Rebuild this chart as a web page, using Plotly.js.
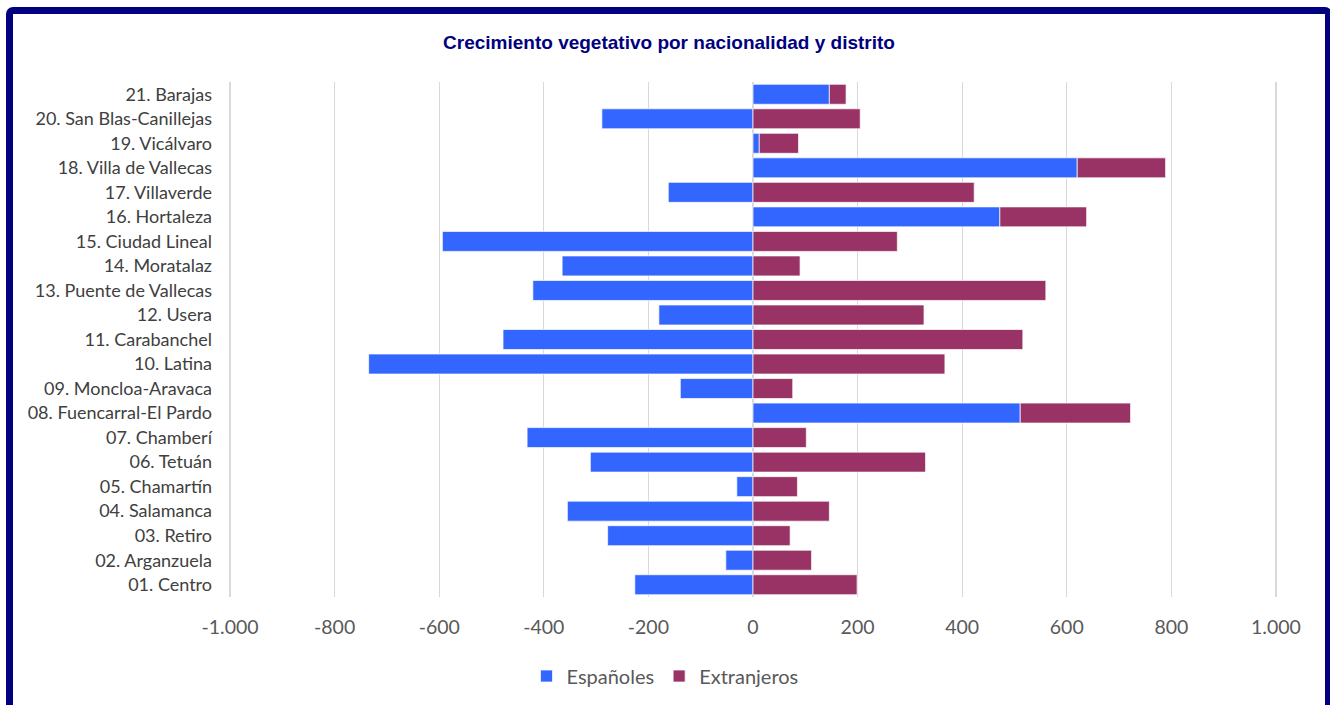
<!DOCTYPE html>
<html>
<head>
<meta charset="utf-8">
<script src="https://cdn.plot.ly/plotly-3.0.1.min.js"></script>
<style>
html,body{margin:0;padding:0;background:#fff;overflow:hidden;}
#chart{position:absolute;left:0;top:0;width:1330px;height:705px;}
#frame{position:absolute;left:6px;top:7px;width:1312px;height:720px;border:7px solid #000080;border-radius:7px;box-sizing:content-box;pointer-events:none;}
</style>
</head>
<body>
<div id="chart"></div>
<div id="frame"></div>
<script>
const categories = [
  "01. Centro", "02. Arganzuela", "03. Retiro", "04. Salamanca", "05. Chamartín",
  "06. Tetuán", "07. Chamberí", "08. Fuencarral-El Pardo", "09. Moncloa-Aravaca",
  "10. Latina", "11. Carabanchel", "12. Usera", "13. Puente de Vallecas",
  "14. Moratalaz", "15. Ciudad Lineal", "16. Hortaleza", "17. Villaverde",
  "18. Villa de Vallecas", "19. Vicálvaro", "20. San Blas-Canillejas", "21. Barajas"
];
const espanoles = [-226, -52, -278, -355, -31, -311, -432, 511, -139, -735, -478, -180, -421, -365, -594, 472, -162, 620, 12, -289, 146];
const extranjeros = [199, 112, 71, 146, 85, 330, 102, 211, 76, 367, 516, 327, 560, 90, 276, 166, 423, 169, 75, 205, 32];
const tickValues = [-1000, -800, -600, -400, -200, 0, 200, 400, 600, 800, 1000];
const tickLabels = ["-1.000", "-800", "-600", "-400", "-200", "0", "200", "400", "600", "800", "1.000"];

const traces = [
  {type: "bar", orientation: "h", name: "Españoles", y: categories, x: espanoles,
   marker: {color: "#3366FF", line: {color: "rgba(255,255,255,0.7)", width: 1}}, hoverinfo: "none"},
  {type: "bar", orientation: "h", name: "Extranjeros", y: categories, x: extranjeros,
   marker: {color: "#993366", line: {color: "rgba(255,255,255,0.7)", width: 1}}, hoverinfo: "none"}
];

const layout = {
  width: 1330, height: 705,
  paper_bgcolor: "#ffffff", plot_bgcolor: "#ffffff",
  margin: {l: 228.5, r: 52.5, t: 81.7, b: 107.7, pad: 0},
  barmode: "relative",
  bargap: 0.185,
  font: {family: "Lato, sans-serif", color: "#595959"},
  title: {
    text: "<b>Crecimiento vegetativo por nacionalidad y distrito</b>",
    font: {family: "'Liberation Sans', Arial, sans-serif", size: 19, color: "#000080"},
    xref: "container", x: 0.503, xanchor: "center",
    yref: "container", y: 1 - 42/705, yanchor: "middle"
  },
  xaxis: {
    range: [-1002, 1002],
    tickvals: tickValues, ticktext: tickLabels,
    tickfont: {size: 19.5, color: "#595959"},
    showgrid: true, gridcolor: "#d9d9d9", gridwidth: 1.3,
    zeroline: true, zerolinecolor: "#d9d9d9", zerolinewidth: 1.3,
    showline: false, ticks: "", ticklabelstandoff: 16,
    fixedrange: true
  },
  yaxis: {
    type: "category",
    tickfont: {size: 18, color: "#404040"},
    showgrid: false, zeroline: false, showline: false, ticks: "",
    ticklabelstandoff: 16,
    fixedrange: true
  },
  showlegend: true,
  legend: {
    orientation: "h",
    xref: "container", x: 0.500, xanchor: "center",
    yref: "container", y: (705 - 676) / 705, yanchor: "middle",
    font: {size: 20, color: "#595959"},
    traceorder: "normal",
    itemwidth: 30
  }
};

Plotly.newPlot("chart", traces, layout, {displayModeBar: false, staticPlot: true});
</script>
</body>
</html>
